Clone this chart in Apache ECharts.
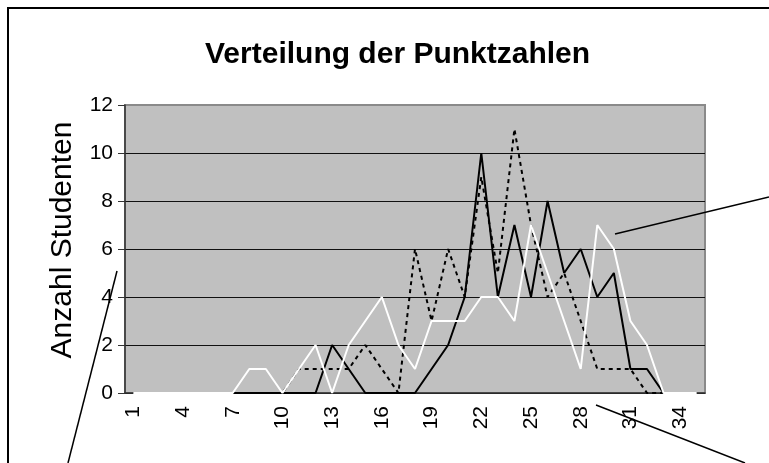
<!DOCTYPE html>
<html>
<head>
<meta charset="utf-8">
<script src="https://cdn.jsdelivr.net/npm/echarts@6/dist/echarts.min.js"></script>
<style>
  html, body { margin: 0; padding: 0; background: #fff; }
  #chart { width: 769px; height: 463px; }
</style>
</head>
<body>
<div id="chart"></div>
<script>
// Punktzahlen 1..35
const punkte = Array.from({length: 35}, (_, i) => String(i + 1));

// three groups
const gruppeGepunktet = [0,0,0,0,0,0,0,0,0,0,1,1,1,1,2,1,0,6,3,6,4,9,5,11,7,4,5,3,1,1,1,0,0,0,0];
const gruppeSchwarz   = [0,0,0,0,0,0,0,0,0,0,0,0,2,1,0,0,0,0,1,2,4,10,4,7,4,8,5,6,4,5,1,1,0,0,0];
const gruppeWeiss     = [0,0,0,0,0,0,0,1,1,0,1,2,0,2,3,4,2,1,3,3,3,4,4,3,7,5,3,1,7,6,3,2,0,0,0];

const yTicks = [0, 2, 4, 6, 8, 10, 12];

const chart = echarts.init(document.getElementById('chart'));

chart.setOption({
  animation: false,
  backgroundColor: '#fff',
  textStyle: { fontFamily: 'Arial, "Liberation Sans", sans-serif' },
  title: {
    text: 'Verteilung der Punktzahlen',
    left: 205,
    top: 40,
    padding: 0,
    textStyle: { fontSize: 30, fontWeight: 'bold', color: '#000', fontFamily: 'Arial, "Liberation Sans", sans-serif' }
  },
  grid: {
    left: 125, right: 64, top: 105, bottom: 70,
    show: true,
    backgroundColor: '#c0c0c0',
    borderColor: '#8a8a8a',
    borderWidth: 2
  },
  xAxis: {
    type: 'category',
    data: punkte,
    boundaryGap: true,
    axisLine: { lineStyle: { color: '#333', width: 1.5 } },
    axisTick: { interval: 0, length: 7, lineStyle: { color: '#333' } },
    axisLabel: { interval: 2, rotate: 90, fontSize: 21, color: '#000', margin: 13 }
  },
  yAxis: {
    type: 'value',
    min: yTicks[0],
    max: yTicks[yTicks.length - 1],
    interval: 2,
    name: 'Anzahl Studenten',
    nameLocation: 'middle',
    nameRotate: 90,
    nameGap: 47,
    nameTextStyle: { fontSize: 30, color: '#000', padding: [0, 0, 0, 18] },
    axisLine: { show: true, lineStyle: { color: '#333', width: 1.5 } },
    axisTick: { show: true, length: 7, lineStyle: { color: '#333' } },
    axisLabel: { fontSize: 21, color: '#000', margin: 12 },
    splitLine: { show: true, showMaxLine: false, lineStyle: { color: '#111', width: 1 } }
  },
  series: [
    {
      type: 'line', data: gruppeGepunktet, symbol: 'none', z: 2,
      lineStyle: { color: '#000', width: 2, type: [4, 4] }
    },
    {
      type: 'line', data: gruppeSchwarz, symbol: 'none', z: 3,
      lineStyle: { color: '#000', width: 2 }
    },
    {
      type: 'line', data: gruppeWeiss, symbol: 'none', z: 4,
      lineStyle: { color: '#fff', width: 2 }
    }
  ],
  graphic: [
    // outer chart frame (runs off the right and bottom edge)
    { type: 'rect', shape: { x: 8, y: 8, width: 800, height: 500 },
      style: { fill: null, stroke: '#000', lineWidth: 2 }, z: 10 },
    // leader lines of the cut-off callouts
    { type: 'line', shape: { x1: 117, y1: 271, x2: 68, y2: 463 },
      style: { stroke: '#000', lineWidth: 1.5 }, z: 10 },
    { type: 'line', shape: { x1: 615, y1: 234, x2: 769, y2: 197 },
      style: { stroke: '#000', lineWidth: 1.5 }, z: 10 },
    { type: 'line', shape: { x1: 596, y1: 405, x2: 745, y2: 463 },
      style: { stroke: '#000', lineWidth: 1.5 }, z: 10 }
  ]
});
</script>
</body>
</html>
